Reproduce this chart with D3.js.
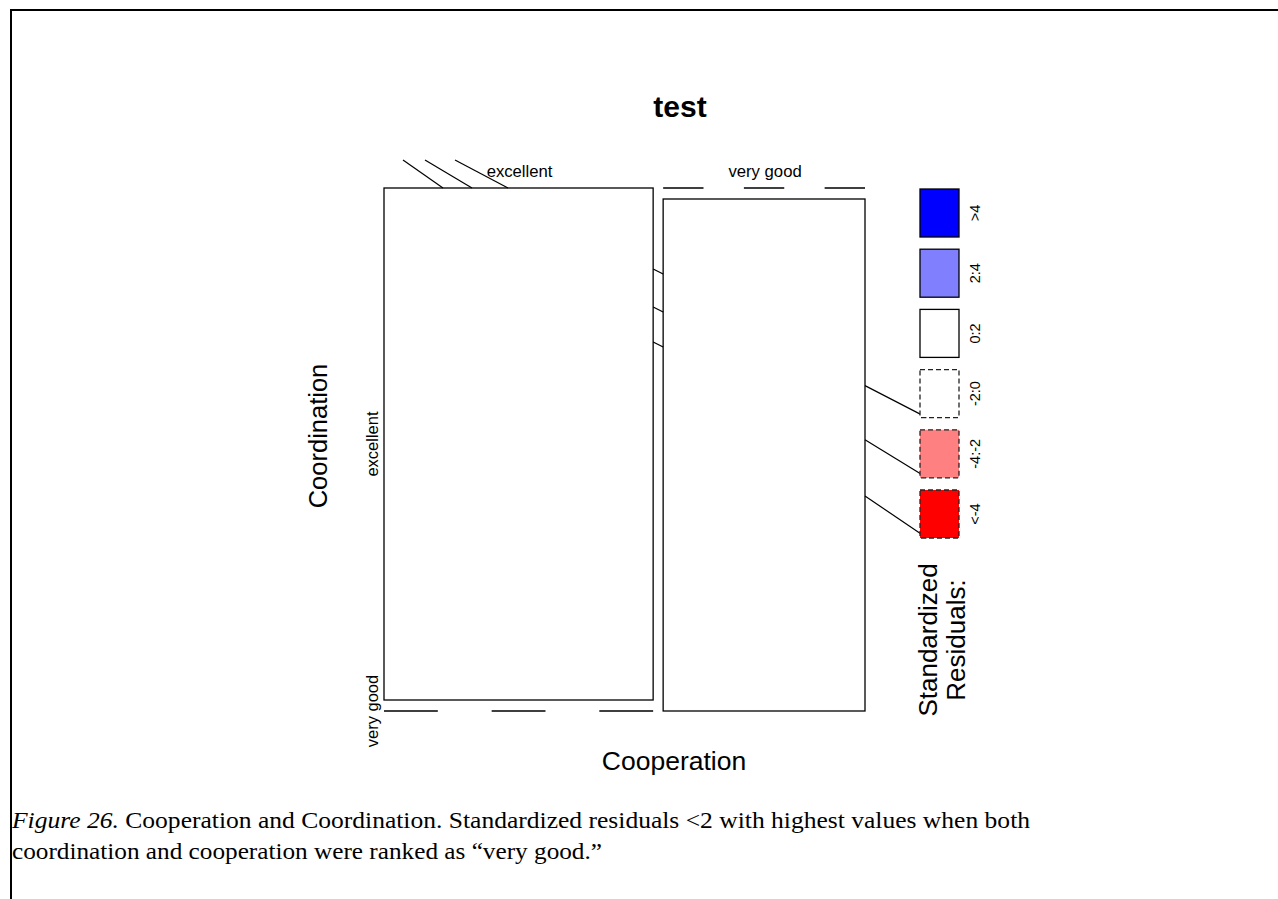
<!DOCTYPE html>
<html>
<head>
<meta charset="utf-8">
<script src="https://cdn.jsdelivr.net/npm/d3@7"></script>
<style>
  html, body { margin: 0; padding: 0; background: #fff; }
  svg { display: block; }
</style>
</head>
<body>
<svg id="chart" width="1278" height="899"></svg>
<script>
// Two-way table: Cooperation (columns) by Coordination (rows)
const cooperation = ["excellent", "very good"];
const coordination = ["excellent", "very good"];
// counts[row][col]
const counts = [
  [4, 0],
  [0, 3]
];
// Residual shading bands for the legend, top to bottom
const legendLabels = [">4", "2:4", "0:2", "-2:0", "-4:-2", "<-4"];
const legendFills = ["#0000ff", "#8080ff", "#ffffff", "#ffffff", "#ff8080", "#ff0000"];
const legendDashed = [false, false, false, true, true, true];

const title = "test";
const xTitle = "Cooperation";
const yTitle = "Coordination";

const svg = d3.select("#chart");
const sans = "'Liberation Sans', Arial, sans-serif";
const serif = "'Liberation Serif', 'Times New Roman', serif";

// page frame (top and left rules)
svg.append("path")
  .attr("d", "M11,899 L11,10 L1278,10")
  .attr("fill", "none").attr("stroke", "#000").attr("stroke-width", 2);

// mosaic geometry
const box = { x0: 384, x1: 865, y0: 188, y1: 711 };
const gapX = 10, gapY = 11;
const nCols = cooperation.length, nRows = coordination.length;
const colTotals = cooperation.map((_, j) => d3.sum(counts, r => r[j]));
const rowTotals = counts.map(r => d3.sum(r));
const N = d3.sum(colTotals);

const colScale = d3.scaleLinear().domain([0, N])
  .range([0, (box.x1 - box.x0) - gapX * (nCols - 1)]);

// Pearson residuals of each cell under independence
const residual = (i, j) => {
  const e = rowTotals[i] * colTotals[j] / N;
  return (counts[i][j] - e) / Math.sqrt(e);
};
const shadeIndex = r => r > 4 ? 0 : r > 2 ? 1 : r >= 0 ? 2 : r > -2 ? 3 : r > -4 ? 4 : 5;

const cells = [];
let cumCol = 0;
cooperation.forEach((c, j) => {
  const left = box.x0 + colScale(cumCol) + gapX * j;
  const width = colScale(colTotals[j]);
  const rowScale = d3.scaleLinear().domain([0, colTotals[j]])
    .range([0, (box.y1 - box.y0) - gapY * (nRows - 1)]);
  let cumRow = 0;
  coordination.forEach((r, i) => {
    const top = box.y0 + rowScale(cumRow) + gapY * i;
    const height = rowScale(counts[i][j]);
    const res = residual(i, j);
    cells.push({ i, j, x: left, y: top, w: width, h: height, res, s: shadeIndex(res) });
    cumRow += counts[i][j];
  });
  cumCol += colTotals[j];
});

const g = svg.append("g");
// non-empty tiles
g.selectAll("rect.tile").data(cells.filter(d => d.h > 0)).join("rect")
  .attr("class", "tile")
  .attr("x", d => d.x).attr("y", d => d.y)
  .attr("width", d => d.w).attr("height", d => d.h)
  .attr("fill", d => legendFills[d.s])
  .attr("stroke", "#000").attr("stroke-width", 1.3)
  .attr("stroke-dasharray", d => legendDashed[d.s] ? "5,3" : null);
// empty cells as dashed rules
g.selectAll("line.zero").data(cells.filter(d => d.h === 0)).join("line")
  .attr("class", "zero")
  .attr("x1", d => d.x).attr("x2", d => d.x + d.w)
  .attr("y1", d => d.y).attr("y2", d => d.y)
  .attr("stroke", "#000").attr("stroke-width", 1.3)
  .attr("stroke-dasharray", d => `${d.w / 5},${d.w / 5}`);

// column labels over the top row, row labels beside the first column
const topCells = cells.filter(d => d.i === 0);
svg.selectAll("text.collab").data(topCells).join("text")
  .attr("class", "collab")
  .attr("x", d => d.x + d.w / 2 + 1).attr("y", box.y0 - 11)
  .attr("text-anchor", "middle")
  .attr("font-family", sans).attr("font-size", 16.7)
  .text(d => cooperation[d.j]);
const firstCol = cells.filter(d => d.j === 0);
svg.selectAll("text.rowlab").data(firstCol).join("text")
  .attr("class", "rowlab")
  .attr("transform", d => `translate(${box.x0 - 6},${d.y + d.h / 2}) rotate(-90)`)
  .attr("text-anchor", "middle")
  .attr("font-family", sans).attr("font-size", 16.5)
  .text(d => coordination[d.i]);

// leader strokes near the labels
const strokes = svg.append("g").attr("stroke", "#000").attr("stroke-width", 1.2);
const leftTile = cells[0];
[[19, 59], [41, 88], [71, 124]].forEach(([a, b]) => {
  strokes.append("line")
    .attr("x1", leftTile.x + a).attr("y1", box.y0 - 28)
    .attr("x2", leftTile.x + b).attr("y2", box.y0);
});
[81, 119, 154].forEach(dy => {
  strokes.append("line")
    .attr("x1", leftTile.x + leftTile.w).attr("y1", box.y0 + dy)
    .attr("x2", leftTile.x + leftTile.w + gapX).attr("y2", box.y0 + dy + 5);
});

// title and axis titles
svg.append("text").attr("x", 680).attr("y", 117)
  .attr("text-anchor", "middle").attr("font-family", sans)
  .attr("font-size", 30).attr("font-weight", "bold").text(title);
svg.append("text").attr("x", 674).attr("y", 770)
  .attr("text-anchor", "middle").attr("font-family", sans)
  .attr("font-size", 26.5).text(xTitle);
svg.append("text")
  .attr("transform", `translate(327,436) rotate(-90)`)
  .attr("text-anchor", "middle").attr("font-family", sans)
  .attr("font-size", 25.5).text(yTitle);

// residual legend
const leg = { x: 920, y: 189, w: 39, h: 48, step: 60.2 };
const lg = svg.append("g");
lg.selectAll("rect").data(legendLabels).join("rect")
  .attr("x", leg.x).attr("y", (d, k) => leg.y + k * leg.step)
  .attr("width", leg.w).attr("height", leg.h)
  .attr("fill", (d, k) => legendFills[k])
  .attr("stroke", (d, k) => legendDashed[k] ? "#222" : "#000")
  .attr("stroke-width", 1.3)
  .attr("stroke-dasharray", (d, k) => legendDashed[k] ? "5,3" : null);
lg.selectAll("text").data(legendLabels).join("text")
  .attr("transform", (d, k) => `translate(${leg.x + leg.w + 21},${leg.y + k * leg.step + leg.h / 2}) rotate(-90)`)
  .attr("text-anchor", "middle")
  .attr("font-family", sans).attr("font-size", 14.5)
  .text(d => d);

// strokes from the right tile towards the negative legend keys
const rightTile = cells[3];
[[3, 32], [4, 38], [5, 42]].forEach(([k, rise]) => {
  const yEnd = leg.y + k * leg.step + leg.h;
  strokes.append("line")
    .attr("x1", rightTile.x + rightTile.w).attr("y1", yEnd - rise)
    .attr("x2", leg.x + 7).attr("y2", yEnd);
});

const legTitle = svg.append("text")
  .attr("transform", `translate(937,640) rotate(-90)`)
  .attr("text-anchor", "middle").attr("font-family", sans).attr("font-size", 26);
legTitle.append("tspan").attr("x", 0).attr("dy", 0).text("Standardized");
legTitle.append("tspan").attr("x", 0).attr("dy", 28).text("Residuals:");

// figure caption
const cap = svg.append("g").attr("font-family", serif).attr("font-size", 23);
const l1 = cap.append("text").attr("x", 12).attr("y", 828)
  .attr("textLength", 1018).attr("lengthAdjust", "spacingAndGlyphs");
l1.append("tspan").attr("font-style", "italic").text("Figure 26.");
l1.append("tspan").text(" Cooperation and Coordination. Standardized residuals <2 with highest values when both");
cap.append("text").attr("x", 12).attr("y", 859)
  .attr("textLength", 590).attr("lengthAdjust", "spacingAndGlyphs")
  .text("coordination and cooperation were ranked as \u201cvery good.\u201d");
</script>
</body>
</html>
